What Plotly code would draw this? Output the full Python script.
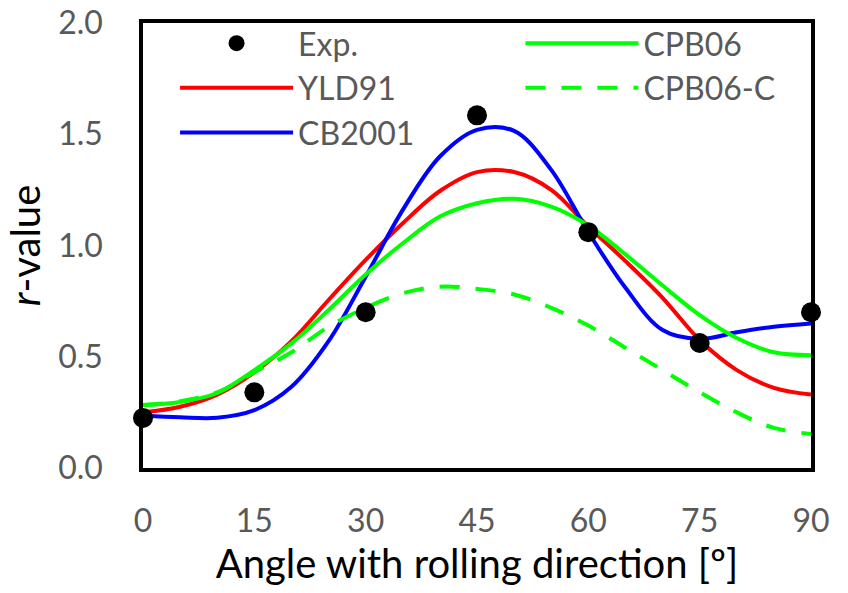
import plotly.graph_objects as go

# ---- data ----
exp_angles = [0, 15, 30, 45, 60, 75, 90]
exp_r = [0.225, 0.34, 0.70, 1.585, 1.06, 0.562, 0.70]

angles = [0, 5, 10, 15, 20, 25, 30, 35, 40, 45, 50, 55, 60, 65, 70, 75, 80, 85, 90]
yld91 = [0.25, 0.275, 0.33, 0.43, 0.57, 0.755, 0.935, 1.10, 1.245, 1.33, 1.33, 1.25, 1.085,
         0.93, 0.765, 0.575, 0.44, 0.36, 0.33]
cb2001 = [0.235, 0.228, 0.226, 0.26, 0.365, 0.57, 0.86, 1.16, 1.40, 1.52, 1.515, 1.34, 1.06,
          0.81, 0.62, 0.58, 0.61, 0.635, 0.65]
cpb06 = [0.283, 0.297, 0.337, 0.44, 0.56, 0.71, 0.87, 1.01, 1.13, 1.19, 1.21, 1.175, 1.09,
         0.96, 0.82, 0.687, 0.584, 0.52, 0.507]
cpb06c = [0.283, 0.30, 0.34, 0.43, 0.52, 0.635, 0.72, 0.785, 0.815, 0.805, 0.78, 0.72, 0.64,
          0.54, 0.44, 0.34, 0.25, 0.18, 0.153]

x_ticks = [0, 15, 30, 45, 60, 75, 90]
y_ticks = [0.0, 0.5, 1.0, 1.5, 2.0]

FONT = "Lato"
GRAY = "#595959"

fig = go.Figure()
fig.add_trace(go.Scatter(x=angles, y=yld91, mode="lines", name="YLD91",
                         line=dict(color="#FF0000", width=4, shape="spline"),
                         legend="legend", legendgroup="b", legendrank=2))
fig.add_trace(go.Scatter(x=angles, y=cb2001, mode="lines", name="CB2001",
                         line=dict(color="#0000FF", width=4, shape="spline"),
                         legend="legend", legendgroup="c", legendrank=3))
fig.add_trace(go.Scatter(x=angles, y=cpb06, mode="lines", name="CPB06",
                         line=dict(color="#00FF00", width=4, shape="spline"),
                         legend="legend2", legendgroup="d", legendrank=4))
fig.add_trace(go.Scatter(x=angles, y=cpb06c, mode="lines", name="CPB06-C",
                         line=dict(color="#00FF00", width=4, shape="spline", dash="20px,16px"),
                         legend="legend2", legendgroup="e", legendrank=5))
fig.add_trace(go.Scatter(x=exp_angles, y=exp_r, mode="markers", name="Exp.",
                         marker=dict(color="black", size=20), cliponaxis=False,
                         legend="legend", legendgroup="a", legendrank=1))

legend_common = dict(font=dict(family=FONT, size=32, color=GRAY), bgcolor="rgba(0,0,0,0)",
                     itemwidth=113, tracegroupgap=0, traceorder="grouped",
                     xanchor="left", yanchor="top", itemclick=False)

fig.update_layout(
    width=848, height=593,
    margin=dict(l=143, r=37, t=23, b=125, autoexpand=False),
    paper_bgcolor="white", plot_bgcolor="white",
    font=dict(family=FONT, color=GRAY),
    showlegend=True,
    legend=dict(x=0.048, y=1.016, **legend_common),
    legend2=dict(x=0.565, y=1.016, **legend_common),
    xaxis=dict(range=[0, 90], tickvals=x_ticks, ticktext=[str(v) for v in x_ticks],
               showgrid=False, zeroline=False, showline=True, linecolor="black",
               linewidth=3.5, mirror=True, ticks="", ticklabelstandoff=22, automargin=False,
               tickfont=dict(family=FONT, size=32, color=GRAY),
               title=dict(text="Angle with rolling direction [º]", standoff=12,
                          font=dict(family=FONT, size=40, color="black"))),
    yaxis=dict(range=[0, 2.0], tickvals=y_ticks, tickformat=".1f",
               showgrid=False, zeroline=False, showline=True, linecolor="black",
               linewidth=3.5, mirror=True, ticks="", ticklabelstandoff=30, automargin=False,
               tickfont=dict(family=FONT, size=32, color=GRAY),
               title=dict(text="<i>r</i>-value", standoff=6,
                          font=dict(family=FONT, size=40, color="black"))),
)

fig.write_html("out.html")
